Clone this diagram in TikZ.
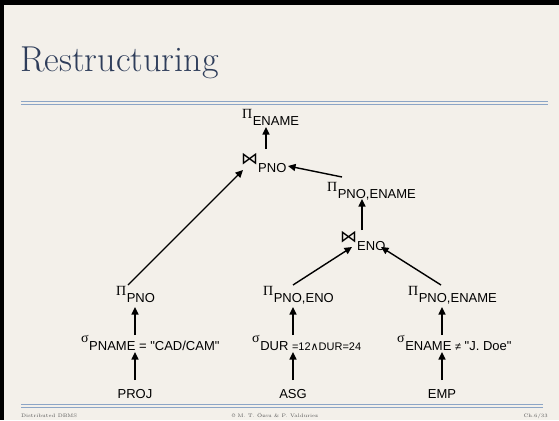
\documentclass[tikz,border=0pt]{standalone}
\usepackage{fontspec}
\usetikzlibrary{arrows.meta}
\newfontfamily\labfont{Liberation Sans}
\newfontfamily\greekfont{Liberation Serif}
\newfontfamily\symfont{DejaVu Sans}
\definecolor{paper}{HTML}{F3F0EA}
\definecolor{titlecol}{HTML}{2E3D5A}
\definecolor{rulecol}{HTML}{8CA5C6}
\definecolor{footcol}{HTML}{555555}
% operator glyphs raised above the subscript baseline
\newcommand\opPi{\raisebox{6.5pt}{\greekfont\fontsize{14}{14}\selectfont Π}\hspace{0.5pt}}
\newcommand\opSigma{\raisebox{7.5pt}{\greekfont\fontsize{14}{14}\selectfont σ}\hspace{0.5pt}}
\newcommand\opJoin{\raisebox{8pt}{\symfont\fontsize{17}{17}\selectfont ⋈}}
\newcommand\smalltxt[1]{{\fontsize{11}{11}\selectfont #1}}
\begin{document}
\begin{tikzpicture}[x=1pt,y=-1pt,
  lbl/.style={inner sep=0pt, anchor=base west, font=\labfont\fontsize{13}{13}\selectfont},
  rel/.style={inner sep=0pt, anchor=base, font=\labfont\fontsize{13}{13}\selectfont},
  arr/.style={line width=1.4pt, -{Triangle[length=7.5pt,width=7pt]}},
  rule/.style={draw=rulecol, line width=0.9pt}]
% slide background and frame
\fill[paper] (0,0) rectangle (559,420);
\fill[black] (0,0) rectangle (559,5);
\fill[black] (0,0) rectangle (4,420);
\useasboundingbox (0,0) rectangle (559,420);
% title and rules
\node[anchor=base west, inner sep=0pt, font=\rmfamily\fontsize{36}{36}\selectfont, text=titlecol] (title) at (20,71) {Restructuring};
\draw[rule] (21,101.5) -- (548,101.5);
\draw[rule] (21,104) -- (548,104);
\draw[rule] (21,404.5) -- (543,404.5);
\draw[rule] (21,407) -- (543,407);
% query tree
\node[lbl] (pename) at (242,125) {\opPi ENAME};
\node[lbl] (jpno) at (241,172) {\opJoin PNO};
\node[lbl] (pmid) at (327,198) {\opPi PNO,ENAME};
\node[lbl] (jeno) at (340,250) {\opJoin ENO};
\node[lbl] (ppno) at (116,302) {\opPi PNO};
\node[lbl] (ppnoeno) at (263,302) {\opPi PNO,ENO};
\node[lbl] (ppnoename) at (408,302) {\opPi PNO,ENAME};
\node[lbl] (sproj) at (81,350) {\opSigma PNAME = "CAD/CAM"};
\node[lbl] (sasg) at (252,350) {\opSigma DUR \smalltxt{=12{\symfont∧}DUR=24}};
\node[lbl] (semp) at (397,350) {\opSigma ENAME \smalltxt{≠} "J. Doe"};
\node[rel] (proj) at (135,398) {PROJ};
\node[rel] (asg) at (293,398) {ASG};
\node[rel] (emp) at (442,398) {EMP};
% edges
\draw[arr] ([shift={(25,-23)}]jpno.base west) -- ([shift={(24,2)}]pename.base west);
\draw[arr] ([shift={(15,-21)}]pmid.base west) -- ([shift={(47,-6)}]jpno.base west);
\draw[arr] ([shift={(12,-17)}]ppno.base west) -- ([shift={(2,-2)}]jpno.base west);
\draw[arr] ([shift={(22,-20)}]jeno.base west) -- ([shift={(35,1)}]pmid.base west);
\draw[arr] ([shift={(30,-17)}]ppnoeno.base west) -- ([shift={(12,-3)}]jeno.base west);
\draw[arr] ([shift={(33,-17)}]ppnoename.base west) -- ([shift={(41,-3)}]jeno.base west);
\draw[arr] ([shift={(54,-15)}]sproj.base west) -- ([shift={(19,5)}]ppno.base west);
\draw[arr] ([shift={(0,-18)}]proj.base) -- ([shift={(54,2)}]sproj.base west);
\draw[arr] ([shift={(41,-15)}]sasg.base west) -- ([shift={(30,5)}]ppnoeno.base west);
\draw[arr] ([shift={(0,-18)}]asg.base) -- ([shift={(41,2)}]sasg.base west);
\draw[arr] ([shift={(45,-15)}]semp.base west) -- ([shift={(34,5)}]ppnoename.base west);
\draw[arr] ([shift={(0,-18)}]emp.base) -- ([shift={(45,2)}]semp.base west);
% footer
\node[anchor=base west, inner sep=0pt, font=\rmfamily\fontsize{5}{5}\selectfont, text=footcol] (foot1) at (21,417) {Distributed DBMS};
\node[anchor=base, inner sep=0pt, font=\rmfamily\fontsize{5}{5}\selectfont, text=footcol] (foot2) at (275,417) {© M. T. Özsu \& P. Valduriez};
\node[anchor=base east, inner sep=0pt, font=\rmfamily\fontsize{5}{5}\selectfont, text=footcol] (foot3) at (548,417) {Ch.6/33};
\end{tikzpicture}
\end{document}
